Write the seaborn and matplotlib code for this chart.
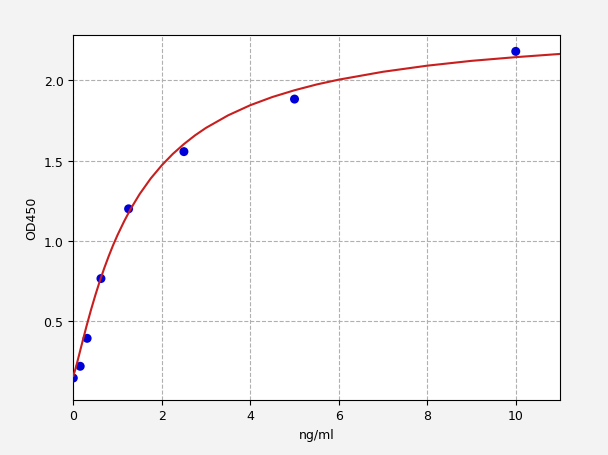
import matplotlib
matplotlib.use("Agg")
import matplotlib.pyplot as plt
import seaborn as sns
import pandas as pd

# standard points
conc = [0, 0.156, 0.3125, 0.625, 1.25, 2.5, 5, 10]
od = [0.147, 0.22, 0.394, 0.766, 1.20, 1.556, 1.883, 2.18]

# fitted curve
curve_x = [0, 0.05, 0.1, 0.15, 0.2, 0.25, 0.3, 0.4, 0.5, 0.6, 0.7, 0.8, 0.9, 1.0, 1.15, 1.3, 1.5,
           1.75, 2.0, 2.25, 2.5, 2.75, 3.0, 3.5, 4.0, 4.5, 5.0, 5.5, 6.0, 7.0, 8.0, 9.0, 10.0, 11.0]
curve_y = [0.16, 0.204, 0.257, 0.311, 0.365, 0.418, 0.471, 0.571, 0.664, 0.751, 0.831, 0.905,
           0.974, 1.037, 1.123, 1.201, 1.292, 1.389, 1.471, 1.542, 1.603, 1.657, 1.704, 1.782,
           1.845, 1.896, 1.938, 1.974, 2.004, 2.053, 2.091, 2.121, 2.144, 2.164]

pts = pd.DataFrame({"conc": conc, "od": od})
fit = pd.DataFrame({"x": curve_x, "y": curve_y})

plt.rcParams["font.family"] = ["DejaVu Sans"]
plt.rcParams["font.size"] = 9

fig = plt.figure(figsize=(6.08, 4.56), dpi=100, facecolor="#f3f3f3")
ax = fig.add_axes([73.3 / 608, 1 - 400.7 / 456, (560 - 73.3) / 608, (400.7 - 36.3) / 456])
ax.set_facecolor("white")

ax.grid(True, linestyle="--", color="#b0b0b0", linewidth=0.8)
ax.set_axisbelow(True)

sns.scatterplot(data=pts, x="conc", y="od", ax=ax, color="#0000d8", s=42,
                edgecolor="none", zorder=3)
sns.lineplot(data=fit, x="x", y="y", ax=ax, color="#c81e1e", linewidth=1.5,
             zorder=4, sort=True)

ax.set_xlim(0, 11)
ax.set_ylim(0.012, 2.28)
ax.set_xticks([0, 2, 4, 6, 8, 10])
ax.set_yticks([0.5, 1.0, 1.5, 2.0])
ax.set_xlabel("ng/ml", fontsize=9)
ax.set_ylabel("OD450", fontsize=9)
ax.tick_params(labelsize=9)

fig.savefig("out.png", dpi=100, facecolor=fig.get_facecolor())
